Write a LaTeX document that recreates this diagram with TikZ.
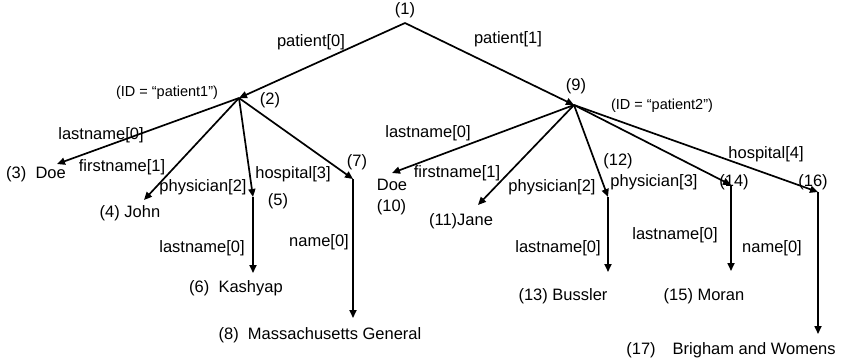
\documentclass[tikz,border=0pt]{standalone}
\usepackage{fontspec}
\setmainfont{Liberation Sans}
\usetikzlibrary{arrows.meta}
\begin{document}
\begin{tikzpicture}[x=1pt,y=-1pt,
  lbl/.style={inner sep=0pt,font=\fontsize{16.5}{19}\selectfont},
  idl/.style={inner sep=0pt,font=\fontsize{14.5}{17}\selectfont},
  edge/.style={line width=1.7pt,-{Triangle[length=8pt,width=7pt]}},
]
\useasboundingbox (0,0) rectangle (842,361);
% vertices
\coordinate (n1) at (405,23);
\coordinate (n2) at (239,98);
\coordinate (n9) at (574,105);
\coordinate (n3) at (57,164);
\coordinate (n4) at (144,200);
\coordinate (n5) at (253,197);
\coordinate (n6) at (253,273);
\coordinate (n7) at (353,179);
\coordinate (n8) at (353,318);
\coordinate (n10) at (392,173);
\coordinate (n11) at (478,205);
\coordinate (n12) at (608,197);
\coordinate (n13) at (608,272);
\coordinate (n14) at (731,185);
\coordinate (n15) at (731,271);
\coordinate (n16) at (818,192);
\coordinate (n17) at (818,334);
% edges
\draw[edge] (n1) -- (n2);
\draw[edge] (n1) -- (n9);
\draw[edge] (n2) -- (n3);
\draw[edge] (n2) -- (n4);
\draw[edge] (n2) -- (n5);
\draw[edge] (n2) -- (n7);
\draw[edge] (n5) -- (n6);
\draw[edge] (n7) -- (n8);
\draw[edge] (n9) -- (n10);
\draw[edge] (n9) -- (n11);
\draw[edge] (n9) -- (n12);
\draw[edge] (n9) -- (n14);
\draw[edge] (n9) -- (n16);
\draw[edge] (n12) -- (n13);
\draw[edge] (n14) -- (n15);
\draw[edge] (n16) -- (n17);
% vertex labels
\node[lbl] (t1) at (405,10) {(1)};
\node[lbl] (t2) at (270,100) {(2)};
\node[idl] (id1) at (167,93) {(ID = “patient1”)};
\node[lbl] (t9) at (576,86) {(9)};
\node[idl] (id2) at (662,106) {(ID = “patient2”)};
\node[lbl] (t5) at (278,201) {(5)};
\node[lbl] (t7) at (357,162) {(7)};
\node[lbl] (t12) at (618,161) {(12)};
\node[lbl] (t14) at (734,182) {(14)};
\node[lbl] (t16) at (813,182) {(16)};
% leaf labels
\node[lbl] (l3) at (36,174) {(3)\ \ Doe};
\node[lbl] (l4) at (130,213) {(4) John};
\node[lbl] (l6) at (236,288) {(6)\ \ Kashyap};
\node[lbl] (l8) at (320,335) {(8)\ \ Massachusetts General};
\node[lbl,align=left] (l10) at (392,197.5) {Doe\\[2pt](10)};
\node[lbl] (l11) at (461,221) {(11)Jane};
\node[lbl] (l13) at (563,296) {(13) Bussler};
\node[lbl] (l15) at (704,296) {(15) Moran};
\node[lbl] (l17) at (731,350) {(17)\hspace{17pt}Brigham and Womens};
% edge labels
\node[lbl] (e1) at (311,42) {patient[0]};
\node[lbl] (e2) at (508,39) {patient[1]};
\node[lbl] (e3) at (101,135) {lastname[0]};
\node[lbl] (e4) at (122,167) {firstname[1]};
\node[lbl] (e5) at (203,187) {physician[2]};
\node[lbl] (e7) at (293,174) {hospital[3]};
\node[lbl] (e6) at (202,248) {lastname[0]};
\node[lbl] (e8) at (319,242) {name[0]};
\node[lbl] (e10) at (428,133) {lastname[0]};
\node[lbl] (e11) at (457,173) {firstname[1]};
\node[lbl] (e12) at (552,187) {physician[2]};
\node[lbl] (e14) at (654,182) {physician[3]};
\node[lbl] (e16) at (766,154) {hospital[4]};
\node[lbl] (e13) at (558,248) {lastname[0]};
\node[lbl] (e15) at (675,235) {lastname[0]};
\node[lbl] (e17) at (772,248) {name[0]};
\end{tikzpicture}
\end{document}
